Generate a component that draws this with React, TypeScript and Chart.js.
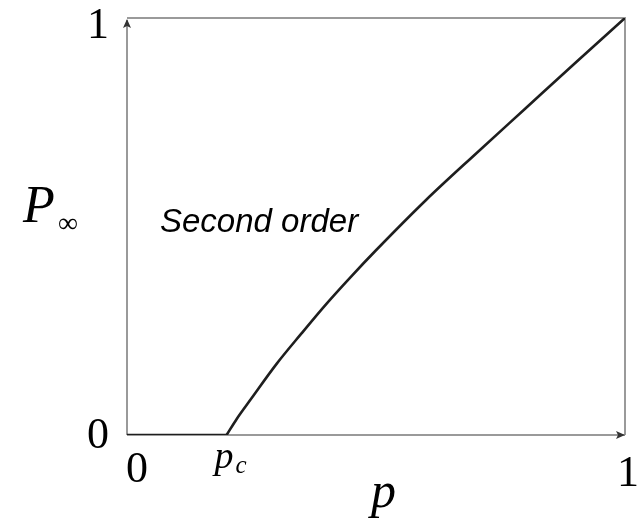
import React, { useEffect, useRef } from "react";
import { Chart, registerables } from "chart.js";

Chart.register(...registerables);

// Occupation probability p and the infinite-cluster strength P∞(p)
const PC = 0.2;
const belowPc = [0, PC];
const belowPcValues = [0, 0];
const pValues = [PC, 0.22, 0.25, 0.3, 0.35, 0.4, 0.45, 0.5, 0.6, 0.7, 0.8, 0.9, 1];
const pInfValues = [0, 0.038, 0.088, 0.17, 0.243, 0.314, 0.38, 0.443, 0.563, 0.674, 0.783, 0.892, 1];

const xTickValues = [0, PC, 1];
const yTickValues = [0, 1];
const phaseLabel = "Second order";

const W = 641;
const H = 521;

const AXIS_COLOR = "#9a9a9a";
const ARROW_COLOR = "#333";
const CURVE_COLOR = "#1e1e1e";
const SERIF = "'Liberation Serif', 'Times New Roman', serif";
const SANS = "'Liberation Sans', Arial, sans-serif";

function arrowHead(ctx: CanvasRenderingContext2D, x: number, y: number, dir: "up" | "right") {
  ctx.save();
  ctx.fillStyle = ARROW_COLOR;
  ctx.beginPath();
  if (dir === "up") {
    ctx.moveTo(x, y);
    ctx.lineTo(x - 4, y + 9);
    ctx.lineTo(x, y + 7);
    ctx.lineTo(x + 4, y + 9);
  } else {
    ctx.moveTo(x, y);
    ctx.lineTo(x - 9, y - 4);
    ctx.lineTo(x - 7, y);
    ctx.lineTo(x - 9, y + 4);
  }
  ctx.closePath();
  ctx.fill();
  ctx.restore();
}

const framePlugin = {
  id: "frameAndLabels",
  beforeDatasetsDraw(chart: any) {
    const ctx: CanvasRenderingContext2D = chart.ctx;
    const xs = chart.scales.x;
    const ys = chart.scales.y;
    const x0 = xs.getPixelForValue(0);
    const x1 = xs.getPixelForValue(1);
    const y0 = ys.getPixelForValue(0);
    const y1 = ys.getPixelForValue(1);
    ctx.save();
    ctx.strokeStyle = AXIS_COLOR;
    ctx.lineWidth = 2;
    ctx.beginPath();
    ctx.moveTo(x0, y1);
    ctx.lineTo(x1, y1);
    ctx.lineTo(x1, y0);
    ctx.moveTo(x0, y0);
    ctx.lineTo(x1, y0);
    ctx.moveTo(x0, y0);
    ctx.lineTo(x0, y1 + 2);
    ctx.stroke();
    ctx.restore();
    arrowHead(ctx, x0, y1 + 1, "up");
    arrowHead(ctx, x1, y0, "right");
  },
  afterDatasetsDraw(chart: any) {
    const ctx: CanvasRenderingContext2D = chart.ctx;
    const xs = chart.scales.x;
    const ys = chart.scales.y;
    ctx.save();
    ctx.fillStyle = "#000";
    ctx.textBaseline = "alphabetic";

    // y tick labels
    ctx.font = `44px ${SERIF}`;
    ctx.textAlign = "center";
    yTickValues.forEach((v) => {
      const y = ys.getPixelForValue(v);
      const off = v === 1 ? 20 : 13;
      ctx.fillText(String(v), xs.getPixelForValue(0) - 29, y + off);
    });

    // x tick labels
    xTickValues.forEach((v) => {
      const x = xs.getPixelForValue(v);
      const yb = ys.getPixelForValue(0);
      if (v === PC) {
        ctx.font = `italic 38px ${SERIF}`;
        ctx.textAlign = "left";
        ctx.fillText("p", x - 12, yb + 33);
        ctx.font = `italic 25px ${SERIF}`;
        ctx.fillText("c", x + 9, yb + 38);
      } else {
        ctx.font = `44px ${SERIF}`;
        ctx.textAlign = "center";
        const dx = v === 0 ? 10 : 3;
        const dy = v === 0 ? 47 : 51;
        ctx.fillText(String(v), x + dx, yb + dy);
      }
    });

    // axis titles
    ctx.font = `italic 50px ${SERIF}`;
    ctx.textAlign = "left";
    ctx.fillText("p", 371, 507);
    ctx.font = `italic 52px ${SERIF}`;
    ctx.fillText("P", 23, 222);
    ctx.font = `28px ${SERIF}`;
    ctx.fillText("\u221E", 58, 232);

    // phase annotation
    ctx.font = `italic 33px ${SANS}`;
    ctx.fillText(phaseLabel, 160, 232);
    ctx.restore();
  },
};

export default function App() {
  const canvasRef = useRef<HTMLCanvasElement | null>(null);

  useEffect(() => {
    const canvas = canvasRef.current;
    if (!canvas) return;
    const chart = new Chart(canvas, {
      type: "scatter",
      data: {
        datasets: [
          {
            data: belowPc.map((p, i) => ({ x: p, y: belowPcValues[i] })),
            showLine: true,
            borderColor: CURVE_COLOR,
            borderWidth: 2.6,
            pointRadius: 0,
            fill: false,
          },
          {
            data: pValues.map((p, i) => ({ x: p, y: pInfValues[i] })),
            showLine: true,
            cubicInterpolationMode: "monotone",
            borderColor: CURVE_COLOR,
            borderWidth: 2.6,
            pointRadius: 0,
            fill: false,
          },
        ],
      },
      options: {
        responsive: false,
        animation: false,
        devicePixelRatio: 1,
        layout: { padding: { left: 127, right: 16, top: 18, bottom: 86 } },
        plugins: {
          legend: { display: false },
          tooltip: { enabled: false },
        },
        scales: {
          x: { type: "linear", min: 0, max: 1, display: false },
          y: { type: "linear", min: 0, max: 1, display: false },
        },
      },
      plugins: [framePlugin],
    });
    return () => chart.destroy();
  }, []);

  return (
    <div style={{ position: "absolute", left: 0, top: 0, width: W, height: H, background: "#fff" }}>
      <canvas ref={canvasRef} width={W} height={H} style={{ display: "block" }} />
    </div>
  );
}
